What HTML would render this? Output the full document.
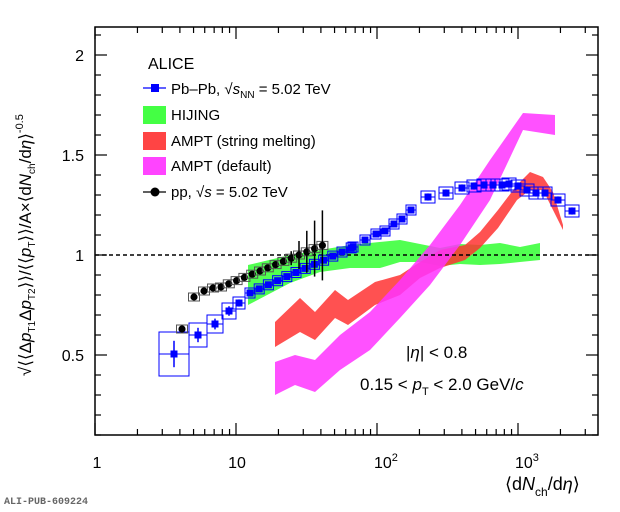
<!DOCTYPE html>
<html><head><meta charset="utf-8"><style>
body{margin:0;background:#fff}
svg{display:block;font-family:"Liberation Sans",sans-serif}
</style></head><body>
<svg id="s" width="620" height="512" xmlns="http://www.w3.org/2000/svg">
<rect width="620" height="512" fill="#fff"/>
<g id="bands"></g>
<line x1="95" y1="255" x2="598" y2="255" stroke="#000" stroke-width="1.5" stroke-dasharray="4,3"/>
<g id="data"></g>
<rect x="95" y="27" width="503" height="408" fill="none" stroke="#000" stroke-width="1.5"/>
<g id="ticks" stroke="#000" stroke-width="1.2"></g>
<g font-size="16" fill="#000">
<text x="97" y="468" text-anchor="middle">1</text>
<text x="237" y="468" text-anchor="middle">10</text>
<text x="374" y="468">10<tspan font-size="11" dy="-7">2</tspan></text>
<text x="515" y="468">10<tspan font-size="11" dy="-7">3</tspan></text>
<text x="84" y="61" text-anchor="end">2</text>
<text x="84" y="161" text-anchor="end">1.5</text>
<text x="84" y="261" text-anchor="end">1</text>
<text x="84" y="361" text-anchor="end">0.5</text>
<text x="505" y="490" font-size="18">⟨d<tspan font-style="italic">N</tspan><tspan font-size="12" dy="6">ch</tspan><tspan dy="-6">/d</tspan><tspan font-style="italic">η</tspan>⟩</text>
<text x="148" y="69" font-size="16">ALICE</text>
<text x="171" y="94" font-size="15">Pb–Pb,   √<tspan font-style="italic">s</tspan><tspan font-size="10" dy="4">NN</tspan><tspan dy="-4"> = 5.02 TeV</tspan></text>
<text x="171" y="120" font-size="15">HIJING</text>
<text x="171" y="146" font-size="15">AMPT (string melting)</text>
<text x="171" y="171" font-size="15">AMPT (default)</text>
<text x="171" y="197" font-size="15">pp,   √<tspan font-style="italic">s</tspan> = 5.02 TeV</text>
<text x="406" y="358" font-size="17">|<tspan font-style="italic">η</tspan>| &lt; 0.8</text>
<text x="360" y="390" font-size="17">0.15 &lt;   <tspan font-style="italic">p</tspan><tspan font-size="11" dy="5">T</tspan><tspan dy="-5"> &lt; 2.0 GeV/</tspan><tspan font-style="italic">c</tspan></text>
<text transform="translate(31,376) rotate(-90)" font-size="17">√⟨⟨Δ<tspan font-style="italic">p</tspan><tspan font-size="10" dy="4">T1</tspan><tspan dy="-4">Δ</tspan><tspan font-style="italic">p</tspan><tspan font-size="10" dy="4">T2</tspan><tspan dy="-4">⟩⟩/⟨⟨</tspan><tspan font-style="italic">p</tspan><tspan font-size="10" dy="4">T</tspan><tspan dy="-4">⟩⟩/A×⟨d</tspan><tspan font-style="italic">N</tspan><tspan font-size="10" dy="4">ch</tspan><tspan dy="-4">/d</tspan><tspan font-style="italic">η</tspan><tspan>⟩</tspan><tspan font-size="11" dy="-8">-0.5</tspan></text>
</g>
<text x="4" y="504" font-family="Liberation Mono,monospace" font-weight="bold" font-size="10" fill="#666">ALI-PUB-609224</text>
<line x1="143" y1="88" x2="166" y2="88" stroke="#00f" stroke-width="1.2"/><rect x="151" y="84" width="8" height="8" fill="#00f"/>
<rect x="143" y="106" width="23" height="18" fill="#4f4"/>
<rect x="143" y="132" width="23" height="18" fill="#f44"/>
<rect x="143" y="157" width="23" height="18" fill="#f4f"/>
<line x1="143" y1="192" x2="166" y2="192" stroke="#000" stroke-width="1.2"/><circle cx="155" cy="192" r="4.5"/>
</svg>
<script>
const NS="http://www.w3.org/2000/svg";
function el(p,t,a){const e=document.createElementNS(NS,t);for(const k in a)e.setAttribute(k,a[k]);p.appendChild(e);return e;}
const T=document.getElementById('ticks'),X=n=>95+141*Math.log10(n);
for(let d=0;d<4;d++)for(let m=1;m<10;m++){const v=Math.pow(10,d)*m,x=X(v);if(x>598)break;const L=m==1?12:6;
el(T,'line',{x1:x,y1:435,x2:x,y2:435-L});el(T,'line',{x1:x,y1:27,x2:x,y2:27+L});}
for(let i=1;i<=21;i++){const v=i/10,y=455-200*v;if(y<27)break;const L=(i%5==0)?12:6;
el(T,'line',{x1:95,y1:y,x2:95+L,y2:y});el(T,'line',{x1:598,y1:y,x2:598-L,y2:y});}
const B=document.getElementById('bands');
function band(top,bot,c){const pts=top.concat(bot.slice().reverse());el(B,'polygon',{points:pts.map(p=>p.join(',')).join(' '),fill:c,'fill-opacity':0.85});}
band([[248,265],[290,255],[320,250],[350,245],[400,240],[415,243],[440,248],[460,244],[480,245],[500,243],[520,247],[540,243]],
[[248,305],[290,283],[320,272],[350,268],[380,268],[400,262],[420,262],[440,266],[460,264],[480,265],[500,264],[520,262],[540,260]],'#3f3');
band([[275,322],[300,298],[315,312],[335,290],[348,300],[375,282],[400,275],[420,262],[440,250],[465,245],[480,232],[498,210],[517,185],[530,172],[543,177],[553,192],[563,225]],
[[275,347],[300,332],[315,340],[335,318],[348,325],[375,305],[400,295],[420,278],[440,268],[465,260],[480,248],[498,228],[517,200],[530,190],[543,190],[553,210],[563,230]],'#f33');
band([[275,362],[295,355],[315,360],[340,335],[370,312],[400,280],[430,245],[460,205],[490,160],[523,113],[555,115]],
[[275,395],[295,385],[315,392],[340,370],[370,350],[400,318],[430,285],[460,245],[490,200],[523,130],[555,135]],'#f3f');
const D=document.getElementById('data');
// PbPb
let pb=[[174,354,15,22],[198,335,9,12],[215,324,8,9],[229,311,7,8],[239,303,6,6],[250,293,5,5]];
for(let i=1;i<=11;i++)pb.push([250+i*9.2,293-i*4.1,5,5]);
[[353,247],[365,240],[376,234],[385,231],[394,224],[402,219],[411,210],[428,197],[446,193],[462,188],[474,186],[484,185],[493,185],[502,185],[509,184],[518,186],[527,190],[536,193],[545,193],[558,200],[572,211]].forEach(p=>pb.push([p[0],p[1],p[0]>420?7:5,p[0]>420?6:5]));
pb.forEach(p=>{const[x,y,w,h]=p;el(D,'rect',{x:x-w,y:y-h,width:2*w,height:2*h,fill:'none',stroke:'#00f','stroke-width':1});
el(D,'line',{x1:x-w,y1:y,x2:x+w,y2:y,stroke:'#00f'});el(D,'line',{x1:x,y1:y-h*0.6,x2:x,y2:y+h*0.6,stroke:'#00f','stroke-width':1.5});
el(D,'rect',{x:x-3.5,y:y-3.5,width:7,height:7,fill:'#00f'});});
// pp
let pp=[[182,329],[194,297],[204,291],[213,288],[221,287]];
for(let i=1;i<=13;i++){const x=221+i*7.8;pp.push([x,287-i*3.2]);}
pp.forEach((p,i)=>{const[x,y]=p;el(D,'rect',{x:x-5.5,y:y-4,width:11,height:8,fill:'none',stroke:'#555','stroke-width':1});
const e=i>12?(i-12)*7:2;el(D,'line',{x1:x,y1:y-e,x2:x,y2:y+e,stroke:'#000','stroke-width':1.5});
el(D,'circle',{cx:x,cy:y,r:3.6});});
</script>
</body></html>
